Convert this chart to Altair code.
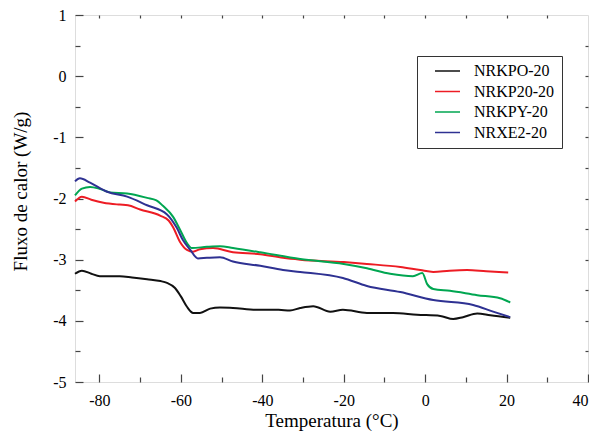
import altair as alt
import pandas as pd

series_names = ["NRKPO-20", "NRKP20-20", "NRKPY-20", "NRXE2-20"]
series_colors = ["#111111", "#ED1C24", "#00A651", "#2E3192"]

black_x = [-86, -84.3, -82, -79.9, -75, -72, -68.3, -65, -63.4, -61.5, -60, -58.5, -57, -55.3, -52.8, -50.4,
           -47.2, -41.3, -36, -33.2, -30.7, -27.5, -23.3, -20.2, -14.3, -7.9, -2, 3.7, 6.9, 9.3, 12.8, 16, 20.9]
black_y = [-3.23, -3.18, -3.23, -3.27, -3.27, -3.29, -3.32, -3.35, -3.38, -3.46, -3.60, -3.77, -3.87, -3.87, -3.80, -3.78,
           -3.79, -3.82, -3.82, -3.83, -3.79, -3.76, -3.85, -3.82, -3.87, -3.87, -3.90, -3.92, -3.97, -3.94, -3.88, -3.91, -3.95]

red_x = [-86, -84.3, -82, -79, -75, -73, -70, -65.1, -63, -61.9, -60.2, -58.5, -57, -55.3, -52.1, -47.2,
         -40.5, -34.9, -30.7, -20, -14.3, -6.1, -1.2, 2, 6, 10.3, 15, 20.4]
red_y = [-2.05, -1.97, -2.02, -2.07, -2.10, -2.11, -2.18, -2.28, -2.36, -2.47, -2.71, -2.84, -2.87, -2.83, -2.81, -2.88,
         -2.91, -2.97, -3.00, -3.04, -3.07, -3.12, -3.17, -3.20, -3.18, -3.17, -3.19, -3.21]

green_x = [-86, -84.3, -82.3, -80, -77.4, -73.2, -68.3, -66, -64.4, -61.9, -60.2, -58.5, -57.3, -53.6, -50.4, -47.2,
           -40.5, -30.7, -20, -14.3, -8.6, -3, -0.7, 0.5, 2, 6.1, 12.8, 18.4, 20.9]
green_y = [-1.95, -1.84, -1.81, -1.84, -1.90, -1.92, -1.99, -2.03, -2.12, -2.30, -2.51, -2.73, -2.81, -2.79, -2.78, -2.81,
           -2.88, -2.99, -3.07, -3.14, -3.23, -3.27, -3.22, -3.40, -3.48, -3.51, -3.58, -3.63, -3.70]

blue_x = [-86, -84.8, -82.3, -78.1, -73.2, -68.3, -63.4, -61, -59.5, -57.7, -55.8, -53.6, -50.4, -47.2,
          -40.5, -34.9, -30.7, -20.2, -14.3, -6.1, 2, 11.8, 16.7, 20.9]
blue_y = [-1.72, -1.67, -1.74, -1.89, -1.97, -2.11, -2.26, -2.48, -2.68, -2.84, -2.98, -2.97, -2.96, -3.03,
          -3.10, -3.17, -3.20, -3.30, -3.43, -3.53, -3.66, -3.74, -3.85, -3.94]

x_major = [-80, -60, -40, -20, 0, 20, 40]
x_minor = [-70, -50, -30, -10, 10, 30]
x_top = [-80, -70, -60, -50, -40, -30, -20, -10, 0, 10, 20, 30]
y_major = [-5, -4, -3, -2, -1, 0, 1]
y_minor = [-4.5, -3.5, -2.5, -1.5, -0.5, 0.5]
y_right = [-4.5, -4, -3.5, -3, -2.5, -2, -1.5, -1, -0.5, 0, 0.5]

rows = []
for name, xs, ys in zip(series_names, [black_x, red_x, green_x, blue_x], [black_y, red_y, green_y, blue_y]):
    for xv, yv in zip(xs, ys):
        rows.append({"serie": name, "t": xv, "f": yv, "ord": len(rows)})
df = pd.DataFrame(rows)

FONT = "Liberation Serif"
AX = "#444444"
xscale = alt.Scale(domain=[-86, 40], nice=False, zero=False)
yscale = alt.Scale(domain=[-5, 1], nice=False, zero=False)

base = alt.Chart(df)

main = base.mark_line(strokeWidth=2, interpolate="monotone").encode(
    x=alt.X("t:Q", scale=xscale, title="Temperatura (°C)",
            axis=alt.Axis(orient="bottom", values=x_major, tickSize=8, offset=-8, domain=False, grid=False,
                          labelPadding=10, labelFontSize=16, labelFont=FONT, labelColor="black",
                          labelExpr="datum.value", tickColor=AX, tickWidth=1.2,
                          titleFont=FONT, titleFontSize=19, titleFontWeight="normal", titleColor="black",
                          titlePadding=3)),
    y=alt.Y("f:Q", scale=yscale, title="Fluxo de calor (W/g)",
            axis=alt.Axis(orient="left", values=y_major, tickSize=8, offset=-8, domain=False, grid=False,
                          labelPadding=9, labelFontSize=16, labelFont=FONT, labelColor="black",
                          labelExpr="datum.value", tickColor=AX, tickWidth=1.2,
                          titleFont=FONT, titleFontSize=19, titleFontWeight="normal", titleColor="black",
                          titlePadding=22, titleY=176)),
    color=alt.Color("serie:N", scale=alt.Scale(domain=series_names, range=series_colors),
                    legend=alt.Legend(title=None, orient="none", legendX=342, legendY=41, direction="vertical",
                                      symbolType="M-2.5,0H2.5", symbolSize=100, symbolStrokeWidth=1.5,
                                      symbolOffset=15.5, labelOffset=18.5,
                                      labelFont=FONT, labelFontSize=16, labelColor="black",
                                      strokeColor="#333333", fillColor="white", padding=7, rowPadding=4.5)),
    order="ord:Q",
)

minor = base.mark_line(strokeOpacity=0).encode(
    x=alt.X("t:Q", scale=xscale, title=None,
            axis=alt.Axis(orient="bottom", values=x_minor, labels=False, tickSize=5, offset=-5,
                          domain=False, grid=False, tickColor=AX, tickWidth=1.2)),
    y=alt.Y("f:Q", scale=yscale, title=None,
            axis=alt.Axis(orient="left", values=y_minor, labels=False, tickSize=5, offset=-5,
                          domain=False, grid=False, tickColor=AX, tickWidth=1.2)),
)

mirror = base.mark_line(strokeOpacity=0).encode(
    x=alt.X("t:Q", scale=xscale, title=None,
            axis=alt.Axis(orient="top", values=x_top, labels=False, tickSize=3, offset=-3,
                          domain=False, grid=False, tickColor=AX, tickWidth=1.2)),
    y=alt.Y("f:Q", scale=yscale, title=None,
            axis=alt.Axis(orient="right", values=y_right, labels=False, tickSize=3, offset=-3,
                          domain=False, grid=False, tickColor=AX, tickWidth=1.2)),
)

chart = alt.layer(main, minor, mirror).resolve_axis(x="independent", y="independent").properties(
    width=513, height=367, autosize=alt.AutoSizeParams(type="none"),
    padding={"left": 67, "top": 7, "right": 1, "bottom": 49}
).configure_view(stroke=AX, strokeWidth=1.5).configure(background="white")

chart.save("out.html", embed_options={"renderer": "svg", "actions": False})
